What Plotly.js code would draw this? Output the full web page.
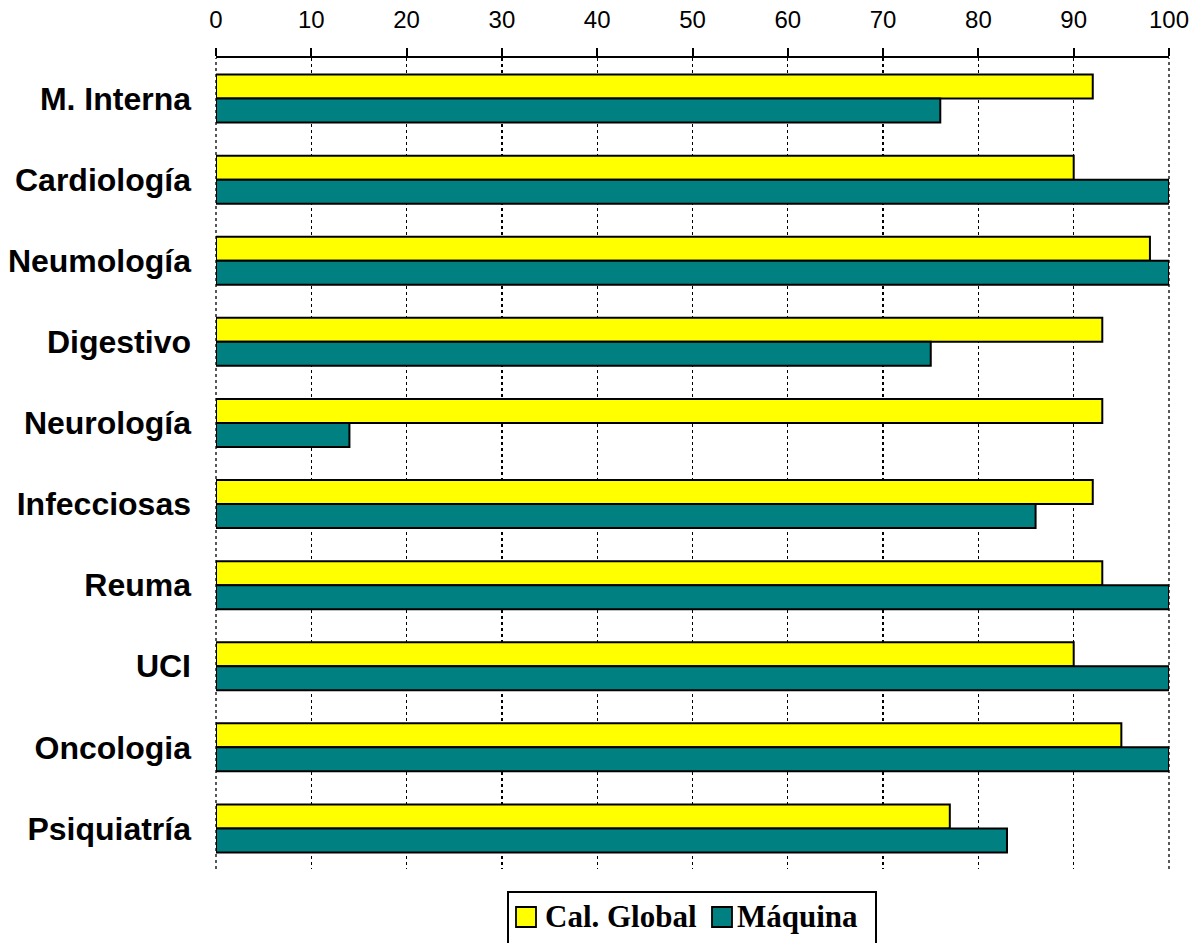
<!DOCTYPE html>
<html>
<head>
<meta charset="utf-8">
<script src="https://cdn.plot.ly/plotly-3.0.1.min.js"></script>
<style>
  html, body { margin: 0; padding: 0; background: #ffffff; }
  #chart { width: 1204px; height: 943px; }
</style>
</head>
<body>
<div id="chart"></div>
<script>
// Services (top to bottom)
const categories = ['M. Interna', 'Cardiología', 'Neumología', 'Digestivo', 'Neurología',
                    'Infecciosas', 'Reuma', 'UCI', 'Oncologia', 'Psiquiatría'];

// Percentages per service
const calGlobal = [92, 90, 98, 93, 93, 92, 93, 90, 95, 77];
const maquina   = [76, 100, 100, 75, 14, 86, 100, 100, 100, 83];

const seriesNames  = ['Cal. Global', 'Máquina'];
const seriesColors = ['#FFFF00', '#008080'];

const xTickValues = [0, 10, 20, 30, 40, 50, 60, 70, 80, 90, 100];

// Plot area in pixels
const W_PX = 1204, H_PX = 943;
const L = 216, R = 1169, T = 58, B = 869;
const px2x = px => (px - L) / (R - L);
const py2y = py => (B - py) / (B - T);

const traces = [calGlobal, maquina].map((vals, i) => ({
  type: 'bar',
  orientation: 'h',
  y: categories,
  x: vals,
  name: seriesNames[i],
  marker: { color: seriesColors[i], line: { color: '#000000', width: 2 } },
  hoverinfo: 'x+y'
}));

// Dotted edge lines at both ends of the value axis
const shapes = [0, 1].map(px => ({
  type: 'line', xref: 'paper', yref: 'paper',
  x0: px, x1: px, y0: 0, y1: 1,
  line: { color: '#000000', width: 1.3, dash: 'dot' }, layer: 'below'
}));

// Boxed legend drawn below the plot
const legendBox = { left: 508, right: 876, top: 892, bottom: 952 };
const legendItems = [
  { sq: 516, text: 543 },
  { sq: 712, text: 735 }
];
const sqTop = 907, sqSize = 20, textMid = 916;

shapes.push({
  type: 'rect', xref: 'paper', yref: 'paper',
  x0: px2x(legendBox.left), x1: px2x(legendBox.right),
  y0: py2y(legendBox.bottom), y1: py2y(legendBox.top),
  line: { color: '#000000', width: 2 }, fillcolor: '#ffffff', layer: 'above'
});
const annotations = [];
legendItems.forEach((it, i) => {
  shapes.push({
    type: 'rect', xref: 'paper', yref: 'paper',
    x0: px2x(it.sq), x1: px2x(it.sq + sqSize),
    y0: py2y(sqTop + sqSize), y1: py2y(sqTop),
    line: { color: '#000000', width: 1.8 }, fillcolor: seriesColors[i], layer: 'above'
  });
  annotations.push({
    xref: 'paper', yref: 'paper',
    x: px2x(it.text), y: py2y(textMid),
    xanchor: 'left', yanchor: 'middle', showarrow: false,
    text: seriesNames[i],
    font: { family: 'Liberation Serif, Times New Roman, serif', size: 31, weight: 'bold', color: '#000000' }
  });
});

const layout = {
  width: W_PX, height: H_PX,
  margin: { l: L, r: W_PX - R, t: T, b: H_PX - B, pad: 0 },
  paper_bgcolor: '#ffffff',
  plot_bgcolor: '#ffffff',
  barmode: 'group',
  bargap: 0.408,
  bargroupgap: 0,
  showlegend: false,
  xaxis: {
    side: 'top',
    range: [0, 100],
    tickvals: xTickValues,
    ticktext: xTickValues.map(String),
    ticks: 'outside', ticklen: 8, tickwidth: 2, tickcolor: '#000000',
    ticklabelstandoff: 10,
    showline: true, linecolor: '#000000', linewidth: 2,
    showgrid: true, gridcolor: '#000000', gridwidth: 1.3, griddash: 'dot',
    zeroline: false,
    tickfont: { family: 'Liberation Sans, Arial, sans-serif', size: 24, color: '#000000' },
    fixedrange: true
  },
  yaxis: {
    type: 'category',
    autorange: 'reversed',
    ticks: '',
    ticklabelstandoff: 24,
    showline: false, showgrid: false, zeroline: false,
    tickfont: { family: 'Liberation Sans, Arial, sans-serif', size: 32, weight: 'bold', color: '#000000' },
    fixedrange: true
  },
  shapes: shapes,
  annotations: annotations
};

Plotly.newPlot('chart', traces, layout, { displayModeBar: false, staticPlot: true });
</script>
</body>
</html>
